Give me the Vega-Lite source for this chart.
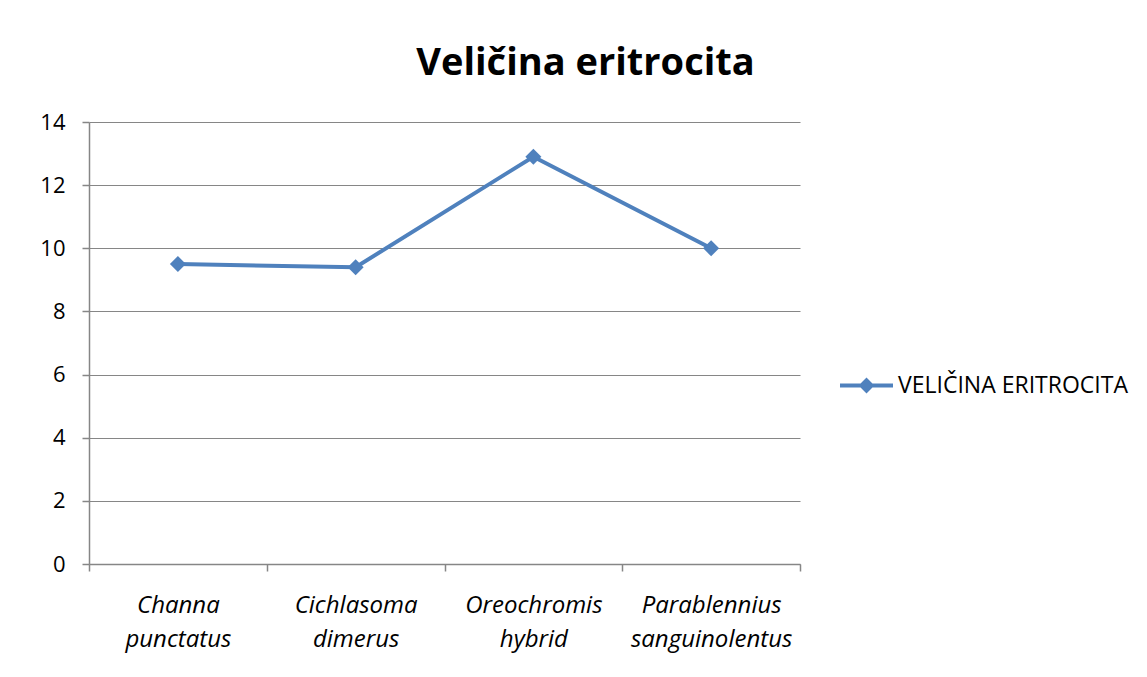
{
  "$schema": "https://vega.github.io/schema/vega-lite/v6.json",
  "width": 711,
  "height": 442,
  "autosize": {"type": "none"},
  "padding": {"left": 89, "top": 122, "right": 347, "bottom": 113},
  "background": "white",
  "title": {
    "text": "Veličina eritrocita",
    "font": "Open Sans",
    "fontSize": 38,
    "fontWeight": "bold",
    "color": "black",
    "anchor": "middle",
    "frame": "group",
    "dx": 141,
    "offset": 28
  },
  "data": {
    "values": [
      {"species": "Channa punctatus", "value": 9.5, "series": "VELIČINA ERITROCITA"},
      {"species": "Cichlasoma dimerus", "value": 9.4, "series": "VELIČINA ERITROCITA"},
      {"species": "Oreochromis hybrid", "value": 12.9, "series": "VELIČINA ERITROCITA"},
      {"species": "Parablennius sanguinolentus", "value": 10.0, "series": "VELIČINA ERITROCITA"}
    ]
  },
  "mark": {
    "type": "line",
    "strokeWidth": 4,
    "point": {"shape": "diamond", "size": 256, "filled": true, "opacity": 1}
  },
  "encoding": {
    "x": {
      "field": "species",
      "type": "nominal",
      "sort": null,
      "scale": {"type": "band", "paddingInner": 0, "paddingOuter": 0},
      "axis": {
        "title": null,
        "labelAngle": 0,
        "tickBand": "extent",
        "labelExpr": "split(datum.label, ' ')",
        "labelFont": "Open Sans",
        "labelFontStyle": "italic",
        "labelFontSize": 24,
        "labelLineHeight": 34,
        "labelPadding": 22,
        "labelColor": "black",
        "labelLimit": 300,
        "tickSize": 7,
        "tickColor": "#868686",
        "domainColor": "#868686",
        "domainWidth": 1.5,
        "tickWidth": 1.5
      }
    },
    "y": {
      "field": "value",
      "type": "quantitative",
      "scale": {"domain": [0, 14], "nice": false},
      "axis": {
        "title": null,
        "values": [0, 2, 4, 6, 8, 10, 12, 14],
        "grid": true,
        "gridColor": "#868686",
        "gridWidth": 1.2,
        "labelFont": "Open Sans",
        "labelFontSize": 22,
        "labelColor": "black",
        "labelPadding": 17,
        "tickSize": 7,
        "tickColor": "#868686",
        "domainColor": "#868686",
        "domainWidth": 1.5,
        "tickWidth": 1.5
      }
    },
    "color": {
      "field": "series",
      "type": "nominal",
      "scale": {"range": ["#4F81BD"]},
      "legend": {
        "title": null,
        "orient": "none",
        "legendX": 751,
        "legendY": 237,
        "padding": 0,
        "symbolType": "M-1,-0.075L1,-0.075L1,0.075L-1,0.075Z M0,-0.3L0.3,0L0,0.3L-0.3,0Z",
        "symbolSize": 2809,
        "symbolFillColor": "#4F81BD",
        "symbolStrokeWidth": 0,
        "labelFont": "Open Sans",
        "labelFontSize": 23,
        "labelColor": "black",
        "labelLimit": 400,
        "labelOffset": 5,
        "encode": {
          "symbols": {"update": {"fill": {"value": "#4F81BD"}, "strokeWidth": {"value": 0}, "opacity": {"value": 1}}}
        }
      }
    }
  },
  "config": {
    "view": {"stroke": null}
  }
}
